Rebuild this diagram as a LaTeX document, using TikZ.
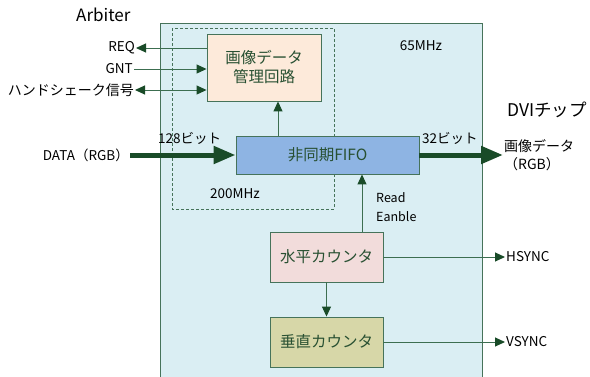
\documentclass[tikz,border=0pt]{standalone}
\usepackage{fontspec}
\setmainfont{Noto Sans CJK JP}
\usetikzlibrary{arrows.meta,calc}
\definecolor{bgblue}{RGB}{218,238,243}
\definecolor{framecol}{RGB}{70,115,90}
\definecolor{linecol}{RGB}{60,110,80}
\definecolor{tipcol}{RGB}{25,75,40}
\definecolor{txtgreen}{RGB}{40,80,50}
\definecolor{peach}{RGB}{253,234,218}
\definecolor{fifoblue}{RGB}{142,180,227}
\definecolor{pinkish}{RGB}{242,220,219}
\definecolor{olivish}{RGB}{215,215,168}
\tikzset{
  blk/.style={draw=framecol, line width=0.9pt, text=txtgreen, font=\fontsize{15.5}{19}\selectfont, align=center, inner sep=0pt},
  lbl/.style={font=\fontsize{13.5}{16}\selectfont, inner sep=1pt, text=black},
  sig/.style={draw=linecol, line width=1pt, -{Triangle[length=10pt,width=9pt,color=tipcol]}},
  sigb/.style={draw=linecol, line width=1pt, {Triangle[length=10pt,width=9pt,color=tipcol]}-{Triangle[length=10pt,width=9pt,color=tipcol]}},
  bus/.style={draw=tipcol, line width=5pt, -{Triangle[length=22pt,width=17pt,color=tipcol]}},
}
\begin{document}
\begin{tikzpicture}[x=1pt,y=-1pt]
\useasboundingbox (0,0) rectangle (590,376);
% main frame
\draw[draw=framecol, fill=bgblue, line width=0.9pt] (160,23) rectangle (482,378);
% dashed region
\draw[draw=framecol, line width=0.7pt, dash pattern=on 3pt off 2pt] (172,28) rectangle (334,209);
% blocks
\node[blk, fill=peach, minimum width=114pt, minimum height=67pt] (img) at (264,67.5) {画像データ\\管理回路};
\node[blk, fill=fifoblue, minimum width=183pt, minimum height=38pt] (fifo) at (327.5,155) {非同期FIFO};
\node[blk, fill=pinkish, minimum width=113pt, minimum height=50pt] (hcnt) at (326.5,257) {水平カウンタ};
\node[blk, fill=olivish, minimum width=113pt, minimum height=50pt] (vcnt) at (326.5,342) {垂直カウンタ};
% texts
\node[lbl, anchor=west, font=\fontsize{17}{20}\selectfont] (arb) at (75,15) {Arbiter};
\node[lbl] (f65) at (421,46) {65MHz};
\node[lbl] (f200) at (235,194) {200MHz};
\node[lbl, anchor=west, font=\fontsize{17.5}{20}\selectfont] (dvi) at (506,110) {DVIチップ};
\node[lbl, anchor=west] (b128) at (157,138) {128ビット};
\node[lbl, anchor=west] (b32) at (421,138) {32ビット};
\node[lbl, anchor=east] (req) at (136,48) {REQ};
\node[lbl, anchor=east] (gnt) at (134,69) {GNT};
\node[lbl, anchor=east, font=\fontsize{14}{16}\selectfont] (hs) at (135,90) {ハンドシェーク信号};
\node[lbl, anchor=east] (data) at (130,155) {DATA（RGB）};
\node[lbl, anchor=west, align=left, font=\fontsize{14}{18}\selectfont] (out) at (503,155) {画像データ\\（RGB）};
\node[lbl, anchor=west, align=left, font=\fontsize{12.5}{19}\selectfont] (re) at (375,207) {Read\\Eanble};
\node[lbl, anchor=west] (hsync) at (505,257) {HSYNC};
\node[lbl, anchor=west] (vsync) at (505,342) {VSYNC};
% connectors
\draw[sig] (img.west |- req) -- (req.east);
\draw[sig] (gnt.east) -- (img.west |- gnt);
\draw[sigb] (hs.east) -- (img.west |- hs);
\draw[bus] (data.east) -- (fifo.west);
\draw[bus] (fifo.east) -- (out.west);
\draw[sig] (fifo.north -| 278,0) -- (img.south -| 278,0);
\draw[sig] (hcnt.north -| 362,0) -- (fifo.south -| 362,0);
\draw[sig] (hcnt.south) -- (vcnt.north);
\draw[sig] (hcnt.east) -- (hsync.west);
\draw[sig] (vcnt.east) -- (vsync.west);
\end{tikzpicture}
\end{document}
